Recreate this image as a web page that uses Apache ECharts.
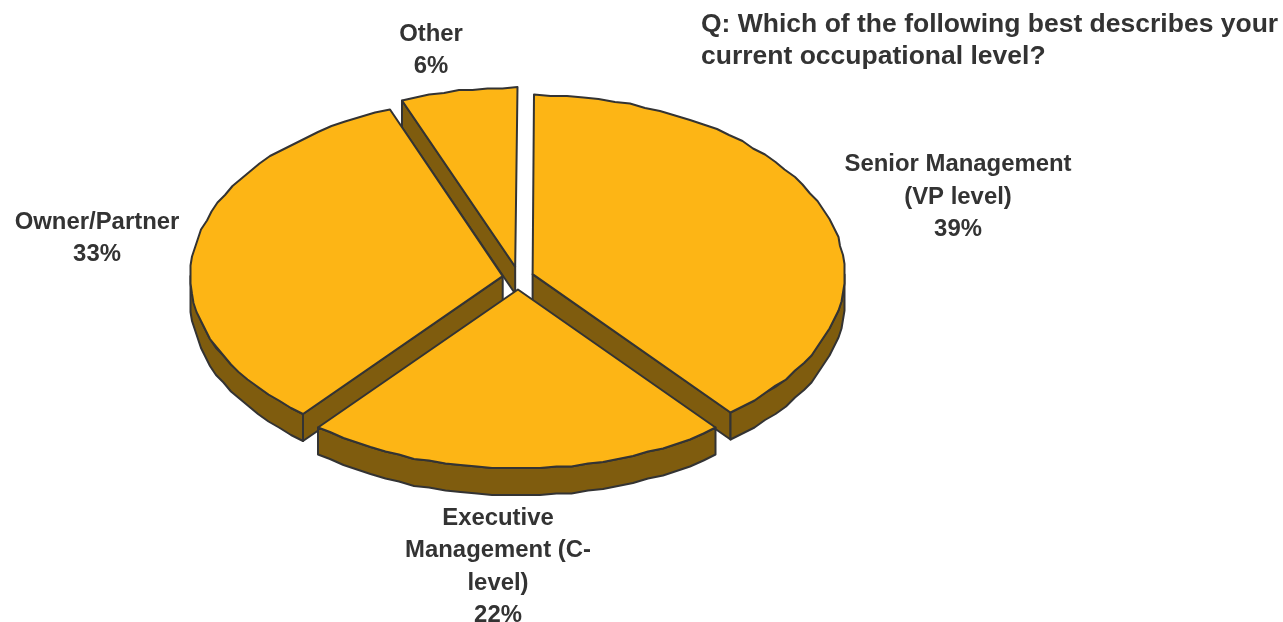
<!DOCTYPE html>
<html>
<head>
<meta charset="utf-8">
<style>html,body{margin:0;padding:0;background:#fff}#chart{width:1283px;height:622px}</style>
<script src="https://cdn.jsdelivr.net/npm/echarts@6/dist/echarts.min.js"></script>
</head>
<body>
<div id="chart"></div>
<script>
// Occupational level survey results, drawn as an exploded tilted pie.
const categories = ['Senior Management\n(VP level)', 'Executive\nManagement (C-\nlevel)', 'Owner/Partner', 'Other'];
const shares = [39, 22, 33, 6];
const question = 'Q: Which of the following best describes your\ncurrent occupational level?';

// Tilted-disc geometry, in pixels and degrees (clockwise from twelve o'clock).
const disc = { cx: 518, cy: 278, rx: 312, ry: 179, depth: 27, popX: 15.5, popY: 11.5, startAngle: 0.3, step: 3, grid: 1.5 };
const topColor = '#FDB515';
const wallColor = '#7F5C0E';
const edgeColor = '#333333';
const paintRank = [2, 3, 1, 0];
const labelSpots = [[958, 197], [498, 567], [97, 238.5], [431, 50.5]];
const fontFamily = 'Liberation Sans';
const labelSize = 23.9;

const rad = d => d * Math.PI / 180;
const total = shares.reduce((a, b) => a + b, 0);

function sliceSpan(i) {
  let from = disc.startAngle;
  for (let k = 0; k < i; k++) from += shares[k] / total * 360;
  return [from, from + shares[i] / total * 360];
}

// Points along the rim between two angles, at a given vertical drop.
// Vertices snap to a coarse grid, which gives the outline its faceted look.
function rim(ox, oy, a0, a1, drop) {
  const pts = [];
  const n = Math.max(1, Math.ceil(Math.abs(a1 - a0) / disc.step));
  for (let j = 0; j <= n; j++) {
    const a = rad(a0 + (a1 - a0) * j / n);
    const snap = v => Math.round(v / disc.grid) * disc.grid;
    pts.push([snap(ox + disc.rx * Math.sin(a)), snap(oy - disc.ry * Math.cos(a)) + drop]);
  }
  return pts;
}

function poly(points, fill, z2) {
  return {
    type: 'polygon',
    z2,
    shape: { points },
    style: { fill, stroke: edgeColor, lineWidth: 2, lineJoin: 'round' }
  };
}

function renderSlice(params) {
  const i = params.dataIndex;
  const [a0, a1] = sliceSpan(i);
  const mid = rad((a0 + a1) / 2);
  const ox = disc.cx + disc.popX * Math.sin(mid);
  const oy = disc.cy - disc.popY * Math.cos(mid);
  const base = paintRank[i] * 10;
  const children = [];

  // Cut faces show only where the wall drops away from the slice.
  [[a0, Math.sin(rad(a0)) < -0.01], [a1, Math.sin(rad(a1)) > 0.01]].forEach(([a, visible]) => {
    if (!visible) return;
    const p = rim(ox, oy, a, a, 0)[0];
    children.push(poly([[ox, oy], p, [p[0], p[1] + disc.depth], [ox, oy + disc.depth]], wallColor, base));
  });

  // Outer wall covers only the front half of the rim.
  const w0 = Math.max(a0, 90);
  const w1 = Math.min(a1, 270);
  if (w1 > w0) {
    const upper = rim(ox, oy, w0, w1, 0);
    const lower = rim(ox, oy, w1, w0, disc.depth);
    children.push(poly(upper.concat(lower), wallColor, base + 1));
  }

  children.push(poly([[ox, oy]].concat(rim(ox, oy, a0, a1, 0)), topColor, base + 2));

  const [lx, ly] = labelSpots[i];
  children.push({
    type: 'text',
    z2: 100,
    style: {
      x: lx,
      y: ly,
      text: categories[i] + '\n' + shares[i] + '%',
      fontFamily,
      fontWeight: 'bold',
      fontSize: labelSize,
      fill: edgeColor,
      align: 'center',
      verticalAlign: 'middle',
      lineHeight: 32.5
    }
  });
  return { type: 'group', children };
}

const chart = echarts.init(document.getElementById('chart'), null, { renderer: 'canvas' });
chart.setOption({
  animation: false,
  backgroundColor: '#fff',
  title: {
    text: question,
    left: 696,
    top: 3,
    textStyle: {
      fontFamily,
      fontWeight: 'bold',
      fontSize: 26.5,
      lineHeight: 32.5,
      color: edgeColor
    }
  },
  series: [{
    type: 'custom',
    coordinateSystem: 'none',
    silent: true,
    renderItem: renderSlice,
    data: shares.map((value, i) => ({ name: categories[i], value }))
  }]
});
</script>
</body>
</html>
